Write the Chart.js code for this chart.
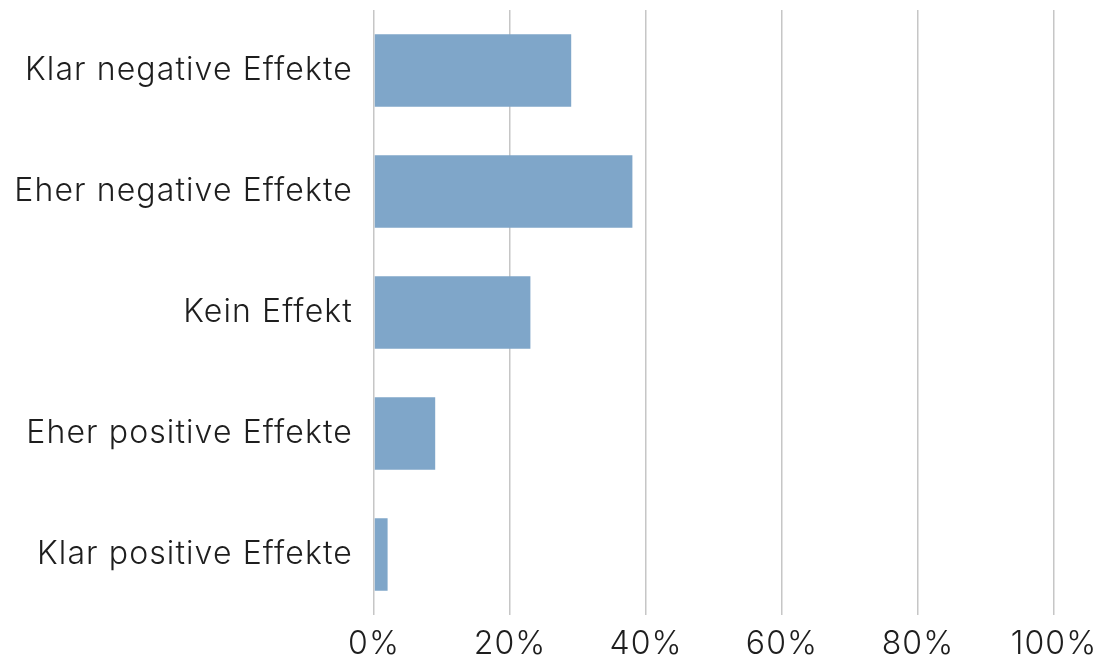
<!DOCTYPE html>
<html>
<head>
<meta charset="utf-8">
<script src="https://cdn.jsdelivr.net/npm/chart.js@4"></script>
<style>
  html, body { margin: 0; padding: 0; background: #fff; }
  #wrap { width: 1105px; height: 661px; }
</style>
</head>
<body>
<div id="wrap"><canvas id="chart" width="1105" height="661"></canvas></div>
<script>
// Kategorien und Werte (Anteil in %)
const kategorien = [
  "Klar negative Effekte",
  "Eher negative Effekte",
  "Kein Effekt",
  "Eher positive Effekte",
  "Klar positive Effekte"
];
const anteile = [29, 38, 23, 9, 2];
const xTicks = [0, 20, 40, 60, 80, 100];

const schrift = "Inter";

// etwas weitere Laufweite wie im Original
const laufweite = {
  id: "laufweite",
  beforeDraw(chart) {
    chart.ctx.letterSpacing = "1.1px";
  },
};

const ctx = document.getElementById("chart").getContext("2d");

new Chart(ctx, {
  type: "bar",
  data: {
    labels: kategorien,
    datasets: [
      {
        label: "Anteil",
        data: anteile,
        backgroundColor: "#7fa6c9",
        borderWidth: 0,
        barPercentage: 0.6,
        categoryPercentage: 1.0,
      },
    ],
  },
  options: {
    indexAxis: "y",
    responsive: false,
    animation: false,
    layout: { padding: { top: 10, right: 51, left: 0, bottom: 0 } },
    plugins: {
      legend: { display: false },
      tooltip: { enabled: false },
    },
    scales: {
      x: {
        min: 0,
        max: 100,
        afterBuildTicks: (axis) => {
          axis.ticks = xTicks.map((v) => ({ value: v }));
        },
        grid: { color: "#c6c6c6", lineWidth: 1.5, drawTicks: false },
        border: { display: false },
        ticks: {
          padding: 10,
          color: "#1e1e1e",
          font: { family: schrift, size: 32, weight: 300 },
          callback: (v) => v + "%",
        },
        afterFit: (axis) => {
          axis.height = 46;
          axis.paddingLeft = 0;
          axis.paddingRight = 0;
        },
      },
      y: {
        grid: { display: false, drawTicks: false },
        border: { display: false },
        ticks: {
          padding: 21,
          color: "#1e1e1e",
          font: { family: schrift, size: 32, weight: 300 },
        },
        afterFit: (axis) => {
          axis.width = 374;
          axis.paddingTop = 0;
          axis.paddingBottom = 0;
        },
      },
    },
  },
  plugins: [laufweite],
});
</script>
</body>
</html>
